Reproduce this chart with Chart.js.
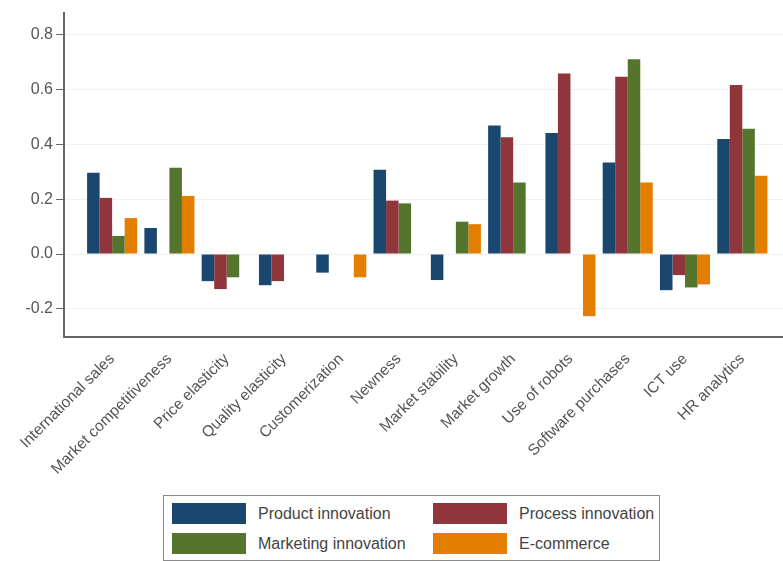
<!DOCTYPE html>
<html>
<head>
<meta charset="utf-8">
<script src="https://cdn.jsdelivr.net/npm/chart.js@4/dist/chart.umd.min.js"></script>
<style>
    html, body { margin: 0; padding: 0; background: #fff; }
    #wrap { position: relative; width: 783px; height: 561px; overflow: hidden; }
    #chart { position: absolute; left: 0; top: 0; }
    #legend {
        position: absolute; left: 163px; top: 495px; width: 497px; height: 66px;
        border: 1px solid #8a8a8a; box-sizing: border-box;
        font-family: "Liberation Sans", Arial, sans-serif; font-size: 16px; color: #444;
    }
    #legend .item { position: absolute; display: flex; align-items: center; height: 21px; }
    #legend .swatch { width: 74px; height: 21px; margin-right: 12px; }
</style>
</head>
<body>
<div id="wrap">
    <canvas id="chart" width="783" height="490"></canvas>
    <div id="legend"></div>
</div>
<script>
// categories along the x axis
const categories = [
    'International sales', 'Market competitiveness', 'Price elasticity',
    'Quality elasticity', 'Customerization', 'Newness', 'Market stability',
    'Market growth', 'Use of robots', 'Software purchases', 'ICT use', 'HR analytics'
];

// coefficients per innovation type (null = not significant, no bar)
const productInnovation   = [0.297, 0.095, -0.099, -0.114, -0.068, 0.308, -0.095, 0.469, 0.442, 0.334, -0.132, 0.420];
const processInnovation   = [0.205, null,  -0.128, -0.099, null,   0.195, null,   0.426, 0.659, 0.647, -0.077, 0.617];
const marketingInnovation = [0.066, 0.315, -0.085, null,   null,   0.185, 0.118,  0.261, null,  0.711, -0.122, 0.457];
const eCommerce           = [0.131, 0.212, null,   null,   -0.085, null,  0.109,  null,  -0.227, 0.261, -0.111, 0.286];

const yTicks = [-0.2, 0, 0.2, 0.4, 0.6, 0.8];

const seriesNames  = ['Product innovation', 'Process innovation', 'Marketing innovation', 'E-commerce'];
const seriesValues = [productInnovation, processInnovation, marketingInnovation, eCommerce];
const seriesColors = ['#1a476f', '#90353b', '#55752f', '#e37e00'];

const FONT = '"Liberation Sans", Arial, sans-serif';

const datasets = seriesNames.map((name, s) => ({
    label: name,
    data: seriesValues[s].map((v, i) => ({ x: i + 1, y: v })),
    backgroundColor: seriesColors[s],
    borderWidth: 0,
    categoryPercentage: 0.874,
    barPercentage: 1.0
}));

// two-column legend box under the plot
const htmlLegend = {
    id: 'htmlLegend',
    afterUpdate(chart) {
        const box = document.getElementById('legend');
        box.innerHTML = '';
        chart.data.datasets.forEach((ds, i) => {
            const item = document.createElement('div');
            item.className = 'item';
            item.style.left = (8 + (i % 2) * 261) + 'px';
            item.style.top = (7 + Math.floor(i / 2) * 30) + 'px';
            item.innerHTML = `<span class="swatch" style="background:${ds.backgroundColor}"></span><span>${ds.label}</span>`;
            box.appendChild(item);
        });
    }
};

new Chart(document.getElementById('chart'), {
    type: 'bar',
    data: { datasets },
    plugins: [htmlLegend],
    options: {
        responsive: false,
        animation: false,
        layout: { padding: { top: 13, right: 0, left: 0, bottom: 0 } },
        plugins: {
            legend: { display: false },
            tooltip: { enabled: false }
        },
        scales: {
            x: {
                type: 'linear',
                offset: false,
                min: 0.16,
                max: 12.71,
                afterBuildTicks: scale => {
                    scale.ticks = categories.map((_, i) => ({ value: i + 1 }));
                },
                afterFit: scale => {
                    scale.height = 153;
                    scale.paddingLeft = 0;
                    scale.paddingRight = 0;
                },
                grid: { display: false, offset: false },
                border: { display: true, color: '#666', width: 2 },
                ticks: {
                    autoSkip: false,
                    minRotation: 45,
                    maxRotation: 45,
                    padding: 5,
                    color: '#555',
                    font: { family: FONT, size: 15.5 },
                    callback: v => categories[v - 1] || ''
                }
            },
            y: {
                min: -0.303,
                max: 0.88,
                afterBuildTicks: scale => {
                    scale.ticks = yTicks.map(v => ({ value: v }));
                },
                afterFit: scale => { scale.width = 64; },
                grid: { color: '#f0f0f0', tickColor: '#666', tickLength: 8, lineWidth: 1 },
                border: { display: true, color: '#666', width: 2 },
                ticks: {
                    color: '#555',
                    padding: 3,
                    font: { family: FONT, size: 16 },
                    callback: v => v.toFixed(1)
                }
            }
        }
    }
});
</script>
</body>
</html>
